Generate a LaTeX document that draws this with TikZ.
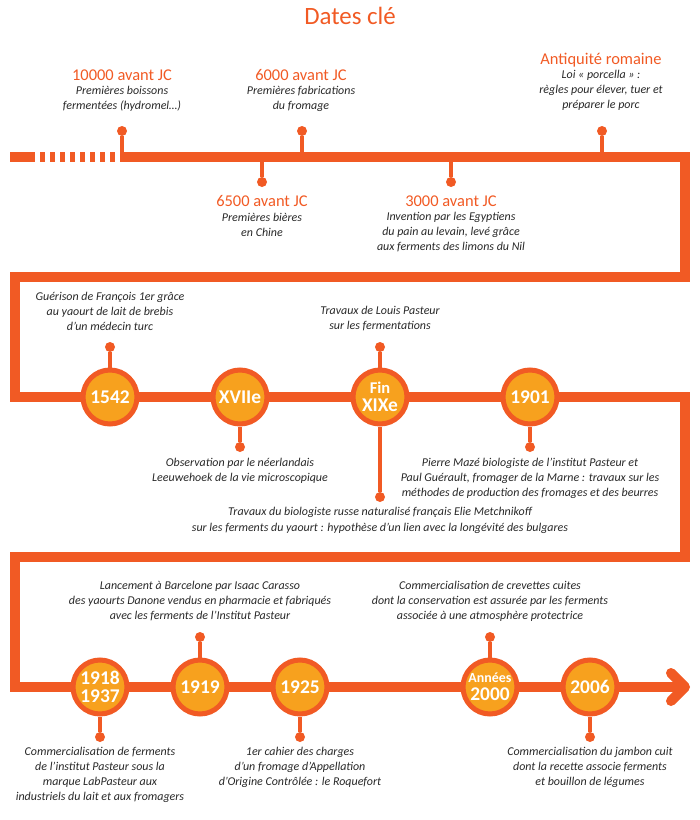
\documentclass[tikz,border=0pt]{standalone}
\usepackage{fontspec}
\setmainfont{Carlito}
\definecolor{lineor}{RGB}{241,90,36}
\definecolor{fillor}{RGB}{247,161,30}
\definecolor{txt}{RGB}{40,40,40}
\begin{document}
\begin{tikzpicture}[x=1bp,y=-1bp,
  tl/.style={line width=10bp, draw=lineor},
  yr/.style={circle, fill=fillor, draw=lineor, line width=5bp, minimum size=54bp, inner sep=0pt, text=white, font=\bfseries\fontsize{19.5}{18}\selectfont, align=center},
  pin/.style={circle, fill=lineor, inner sep=0pt, minimum size=10bp},
  stem/.style={draw=lineor, line width=3.3bp},
  ttl/.style={text=lineor, font=\fontsize{16.5}{18}\selectfont, inner sep=0pt},
  desc/.style={text=txt, font=\itshape\fontsize{12}{15}\selectfont, align=center, inner sep=0pt},
  dash piece/.style={fill=lineor}
]
\useasboundingbox (0,0) rectangle (700,820);

% title
\node[text=lineor, font=\fontsize{25}{28}\selectfont, inner sep=0pt] (title) at (350,16) {Dates clé};

% main line
\coordinate (a0) at (120,157);
\coordinate (a1) at (685,157);
\coordinate (b0) at (685,277);
\coordinate (b1) at (15,277);
\coordinate (c0) at (15,397);
\coordinate (c1) at (685,397);
\coordinate (d0) at (685,557);
\coordinate (d1) at (15,557);
\coordinate (e0) at (15,687);
\coordinate (e1) at (685,687);
\coordinate (ar1) at (671,673);
\coordinate (ar2) at (671,701);
\draw[tl, line join=miter] (a0) -- (a1) -- (b0) -- (b1) -- (c0) -- (c1) -- (d0) -- (d1) -- (e0) -- (e1);
\draw[tl, line cap=round, line join=round] (ar1) -- (e1) -- (ar2);

% dashed start
\fill[dash piece] (10,152) rectangle (35,162);
\foreach \i in {0,...,7} {
  \fill[dash piece] (40+10*\i,152) rectangle (44.5+10*\i,162);
}

% ---- top row events ----
\coordinate (l10000) at (122,157);
\node[pin] (p10000) at (122,131) {};
\draw[stem] (p10000) -- (l10000);
\node[ttl] (t10000) at (122,75) {10000 avant JC};
\node[desc] (x10000) at (122,98.5) {Premières boissons\\fermentées (hydromel…)};

\coordinate (l6000) at (302,157);
\node[pin] (p6000) at (302,131) {};
\draw[stem] (p6000) -- (l6000);
\node[ttl] (t6000) at (301,75) {6000 avant JC};
\node[desc] (x6000) at (301,98.5) {Premières fabrications\\du fromage};

\coordinate (lanti) at (602,157);
\node[pin] (panti) at (602,131) {};
\draw[stem] (panti) -- (lanti);
\node[ttl] (tanti) at (601,60) {Antiquité romaine};
\node[desc] (xanti) at (601,90.5) {Loi « porcella » :\\règles pour élever, tuer et\\préparer le porc};

\coordinate (l6500) at (262,157);
\node[pin] (p6500) at (262,182) {};
\draw[stem] (l6500) -- (p6500);
\node[ttl] (t6500) at (262,201) {6500 avant JC};
\node[desc] (x6500) at (262,224.5) {Premières bières\\en Chine};

\coordinate (l3000) at (451,157);
\node[pin] (p3000) at (451,182) {};
\draw[stem] (l3000) -- (p3000);
\node[ttl] (t3000) at (451,201) {3000 avant JC};
\node[desc] (x3000) at (451,232) {Invention par les Egyptiens\\du pain au levain, levé grâce\\aux ferments des limons du Nil};

% ---- second row ----
\node[pin] (p1542) at (110,347) {};
\node[pin] (p17) at (240,447) {};
\node[pin] (p19a) at (380,347) {};
\node[pin] (p19b) at (380,497) {};
\node[pin] (p1901) at (530,447) {};

\node[yr] (c1542) at (110,397) {1542};
\node[yr] (c17) at (240,397) {XVIIe};
\node[yr] (c19) at (380,397) {{\fontsize{16.5}{16}\selectfont Fin}\\[0bp]XIXe};
\node[yr] (c1901) at (530,397) {1901};

\draw[stem] (p1542) -- (c1542);
\draw[stem] (c17) -- (p17);
\draw[stem] (p19a) -- (c19);
\draw[stem] (c19) -- (p19b);
\draw[stem] (c1901) -- (p1901);

\node[desc] (x1542) at (110,311) {Guérison de François 1er grâce\\au yaourt de lait de brebis\\d’un médecin turc};
\node[desc] (x17) at (240,470.5) {Observation par le néerlandais\\Leeuwehoek de la vie microscopique};
\node[desc] (x19a) at (380,318.5) {Travaux de Louis Pasteur\\sur les fermentations};
\node[desc, font=\itshape\fontsize{12}{16}\selectfont] (x19b) at (380,520) {Travaux du biologiste russe naturalisé français Elie Metchnikoff\\sur les ferments du yaourt : hypothèse d’un lien avec la longévité des bulgares};
\node[desc] (x1901) at (530,478) {Pierre Mazé biologiste de l’institut Pasteur et\\Paul Guérault, fromager de la Marne : travaux sur les\\méthodes de production des fromages et des beurres};

% ---- third row ----
\node[pin] (p1918) at (100,737) {};
\node[pin] (p1919) at (200,637) {};
\node[pin] (p1925) at (300,737) {};
\node[pin] (p2000) at (490,637) {};
\node[pin] (p2006) at (590,737) {};

\node[yr] (c1918) at (100,687) {1918\\1937};
\node[yr] (c1919) at (200,687) {1919};
\node[yr] (c1925) at (300,687) {1925};
\node[yr] (c2000) at (490,687) {{\fontsize{14}{15}\selectfont Années}\\[0bp]2000};
\node[yr] (c2006) at (590,687) {2006};

\draw[stem] (c1918) -- (p1918);
\draw[stem] (p1919) -- (c1919);
\draw[stem] (c1925) -- (p1925);
\draw[stem] (p2000) -- (c2000);
\draw[stem] (c2006) -- (p2006);

\node[desc] (x1918) at (100,774.5) {Commercialisation de ferments\\de l’institut Pasteur sous la\\marque LabPasteur aux\\industriels du lait et aux fromagers};
\node[desc] (x1919) at (200,601) {Lancement à Barcelone par Isaac Carasso\\des yaourts Danone vendus en pharmacie et fabriqués\\avec les ferments de l’Institut Pasteur};
\node[desc] (x1925) at (300,767) {1er cahier des charges\\d’un fromage d’Appellation\\d’Origine Contrôlée : le Roquefort};
\node[desc] (x2000) at (490,601) {Commercialisation de crevettes cuites\\dont la conservation est assurée par les ferments\\associée à une atmosphère protectrice};
\node[desc] (x2006) at (590,767) {Commercialisation du jambon cuit\\dont la recette associe ferments\\et bouillon de légumes};
\end{tikzpicture}
\end{document}
